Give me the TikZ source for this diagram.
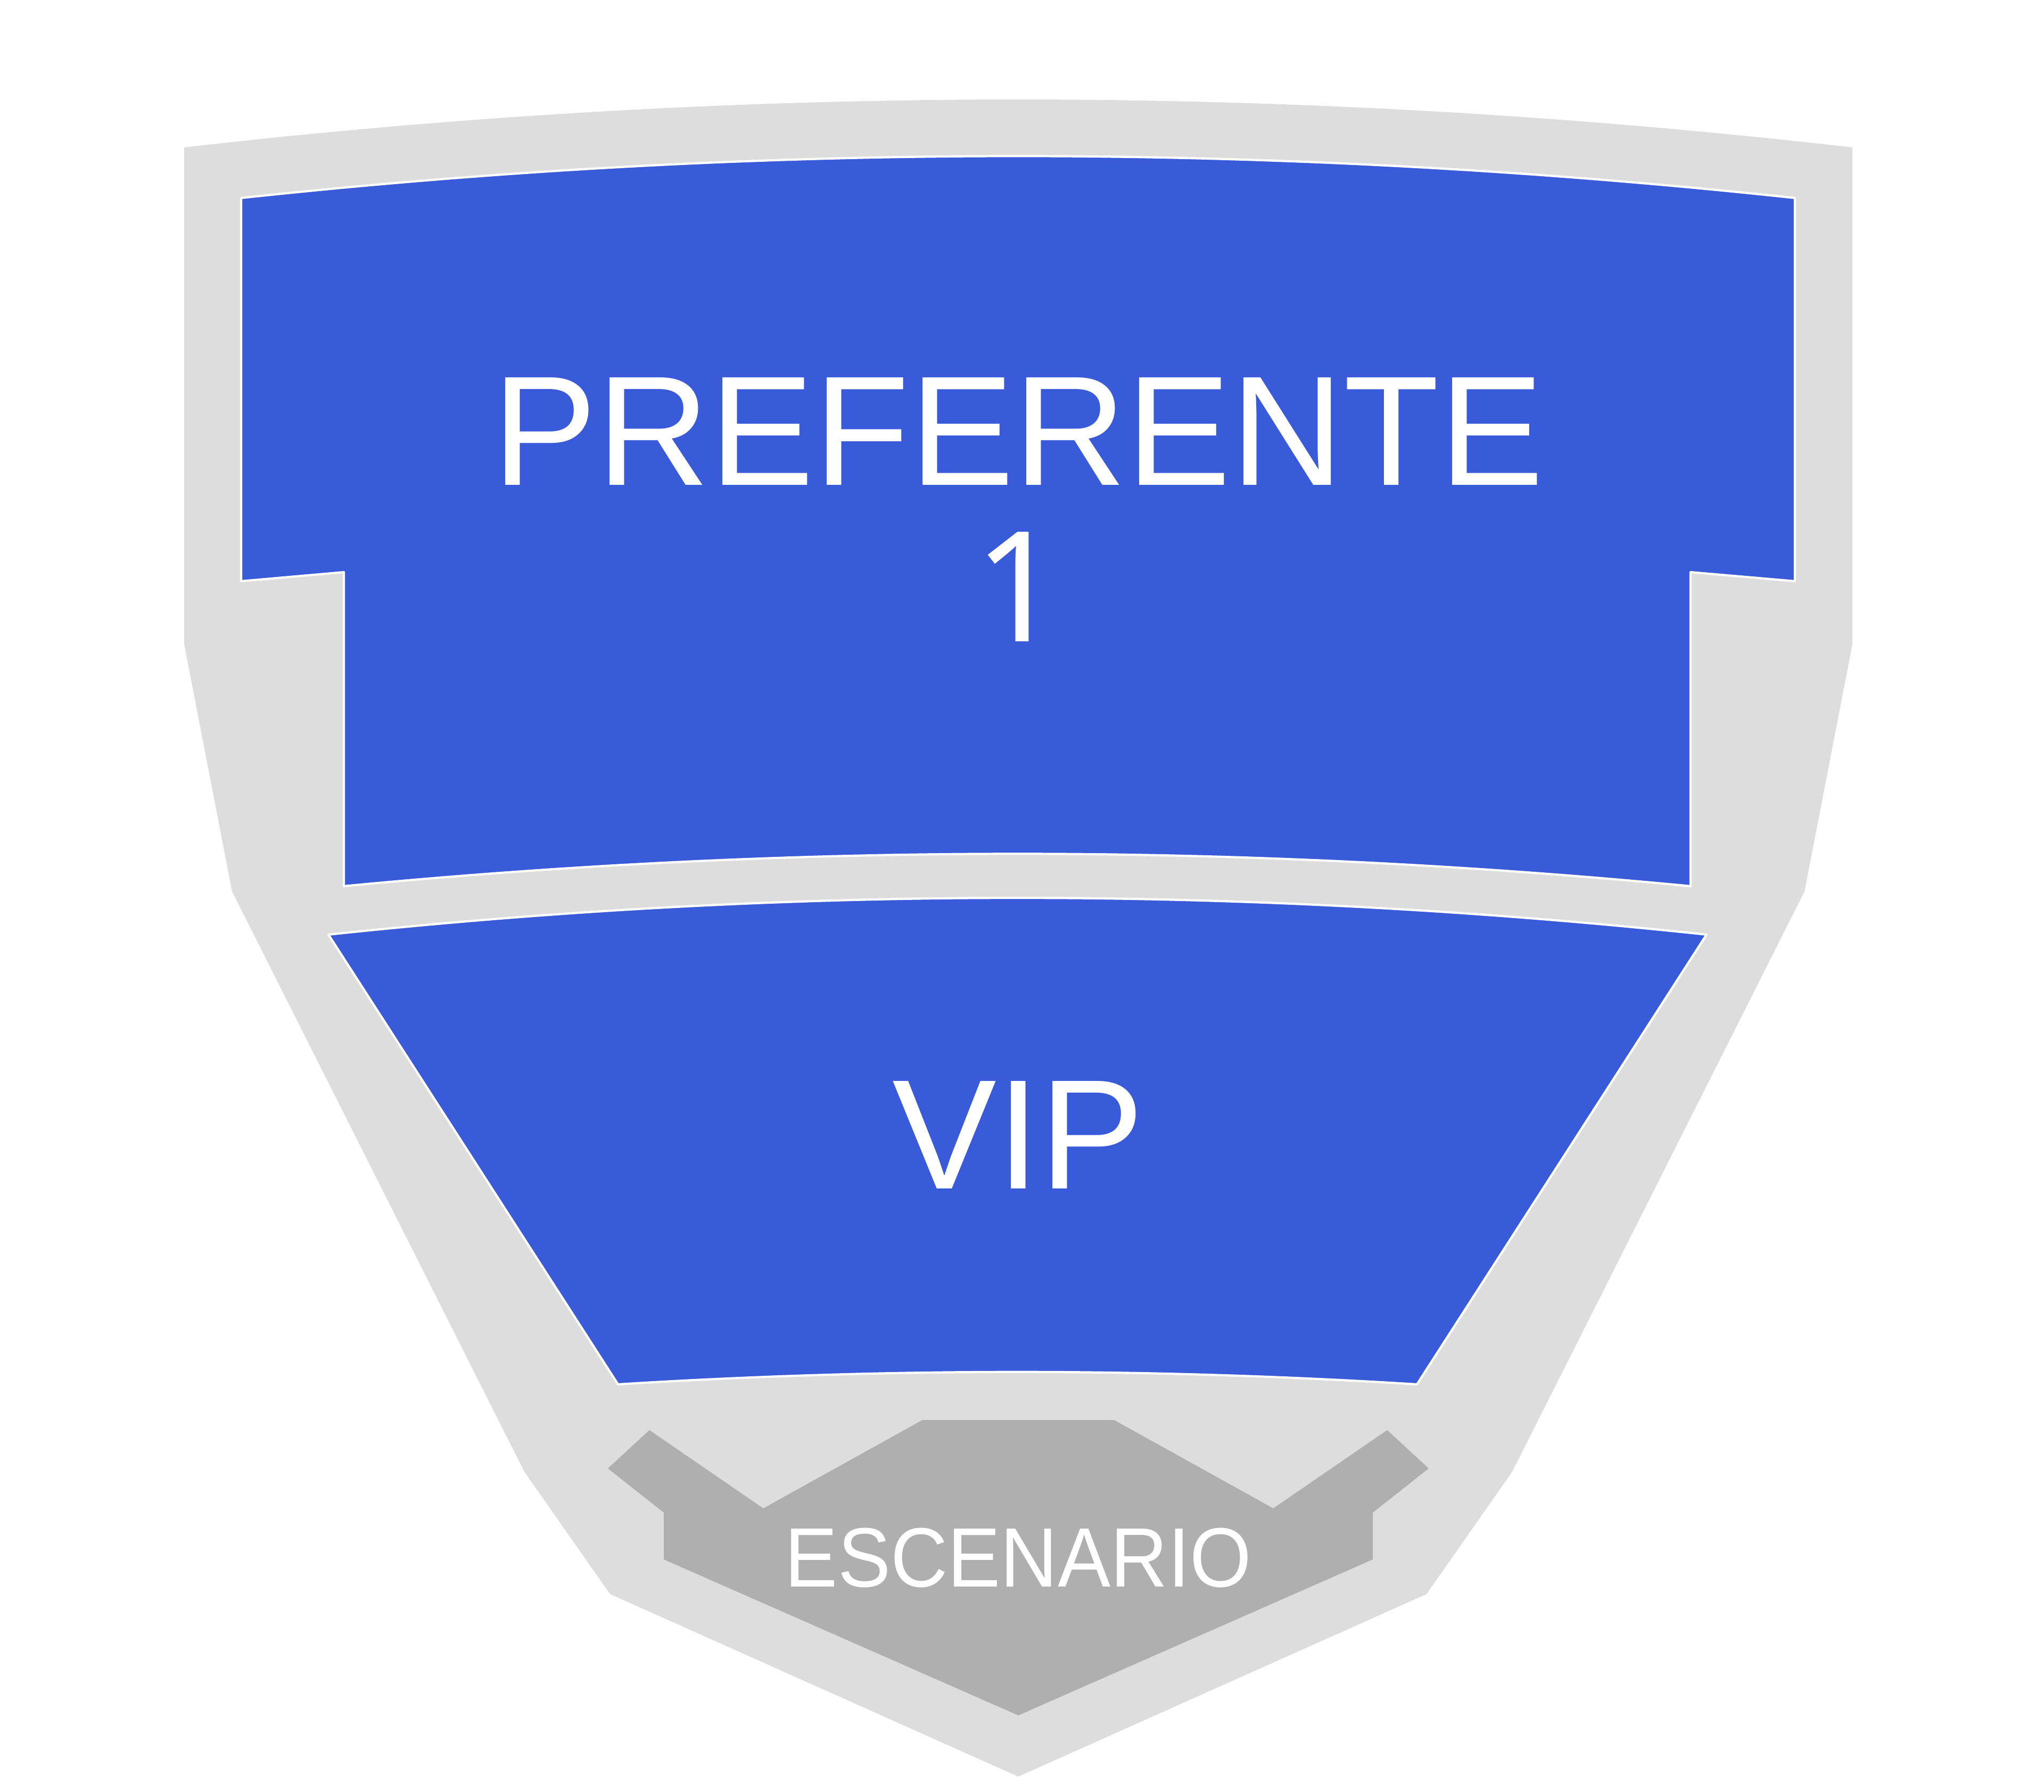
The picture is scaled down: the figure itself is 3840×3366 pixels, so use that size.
\documentclass[tikz,border=0pt]{standalone}
\usepackage{fontspec}
\setmainfont{Liberation Sans}
\newfontfamily\digitfont{Noto Sans}
\usepackage{graphicx}
\definecolor{hallgray}{HTML}{DDDDDD}
\definecolor{zoneblue}{HTML}{3A5BD9}
\definecolor{stagegray}{HTML}{AFAFAF}

\begin{document}
\begin{tikzpicture}[x=0.01cm,y=-0.01cm,
    zone/.style={fill=zoneblue,draw=white,line width=1.2pt,line join=round},
    zonetext/.style={text=white,anchor=base,inner sep=0pt,font=\fontsize{83.5}{83.5}\selectfont}]
  \useasboundingbox (0,0) rectangle (3840,3366);
  \fill[white] (0,0) rectangle (3840,3366);
  \fill[hallgray] (346,277) .. controls (1391,157) and (2435,157) .. (3480,277)
      -- (3480,1210) -- (3390,1675) -- (2841,2765) -- (2680,2995) -- (1913,3338)
      -- (1146,2995) -- (985,2765) -- (436,1675) -- (346,1210) -- cycle;
  \draw[zone] (453,372) .. controls (1426,267) and (2399,267) .. (3372,372)
      -- (3372,1092) -- (3176,1075) -- (3176,1665)
      .. controls (2333,1584) and (1489,1584) .. (646,1665)
      -- (646,1075) -- (453,1092) -- cycle;
  \draw[zone] (617,1756) .. controls (1480,1664) and (2343,1664) .. (3206,1756)
      -- (2662,2601) .. controls (2162,2570) and (1661,2570) .. (1161,2601) -- cycle;
  \fill[stagegray] (1733,2668) -- (2093,2668) -- (2392,2834) -- (2606,2687)
      -- (2684,2759) -- (2579,2842) -- (2579,2930) -- (1913,3223)
      -- (1247,2930) -- (1247,2842) -- (1142,2759) -- (1220,2687)
      -- (1434,2834) -- cycle;
  \node[zonetext] (pref) at (1913,911) {PREFERENTE};
  \node[zonetext,font=\fontsize{82}{82}\digitfont] (prefnum) at (1913,1205) {1};
  \node[zonetext] (vip) at (1913,2233) {VIP};
  \node[zonetext,font=\fontsize{45}{45}\selectfont] (stage) at (1913,2981) {\scalebox{0.94}[1]{ESCENARIO}};
\end{tikzpicture}
\end{document}
